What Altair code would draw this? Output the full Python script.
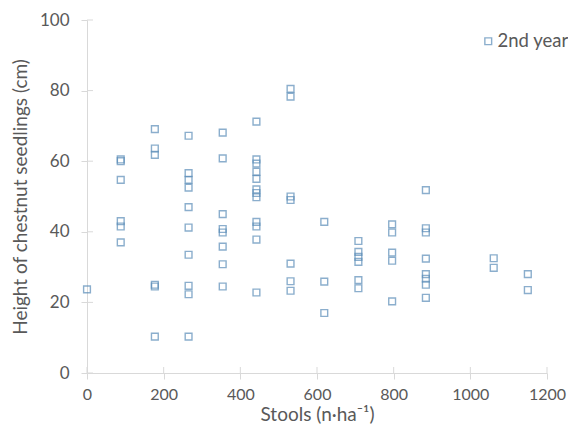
import altair as alt
import pandas as pd

# Stools (n·ha-1) of each column of points
stools = [0, 88, 177, 265, 354, 442, 531, 619, 708, 796, 884, 1061, 1150]

# Heights of chestnut seedlings (cm) read for each column, 2nd year
h_0 = [23.7]
h_88 = [60.5, 60.0, 54.7, 43.0, 41.5, 37.0]
h_177 = [69.1, 63.6, 61.8, 25.0, 24.5, 10.3]
h_265 = [67.2, 56.6, 54.7, 52.5, 47.0, 41.2, 33.5, 24.7, 22.3, 10.3]
h_354 = [68.1, 60.8, 45.0, 40.8, 39.8, 35.8, 30.8, 24.5]
h_442 = [71.2, 60.5, 59.3, 57.0, 55.0, 52.0, 51.0, 49.8, 42.8, 41.5, 37.8, 22.8]
h_531 = [80.5, 78.3, 50.0, 49.0, 31.0, 26.0, 23.3]
h_619 = [42.8, 25.9, 17.0]
h_708 = [37.4, 34.3, 32.9, 31.5, 26.3, 24.0]
h_796 = [42.1, 39.8, 34.1, 31.8, 20.3]
h_884 = [51.8, 41.0, 39.8, 32.4, 28.0, 26.7, 25.0, 21.3]
h_1061 = [32.5, 29.8]
h_1150 = [28.0, 23.5]

heights = [h_0, h_88, h_177, h_265, h_354, h_442, h_531, h_619, h_708,
           h_796, h_884, h_1061, h_1150]

series_name = "2nd year"
x_ticks = [0, 200, 400, 600, 800, 1000, 1200]
y_ticks = [0, 20, 40, 60, 80, 100]

rows = []
for s, hs in zip(stools, heights):
    for h in hs:
        rows.append({"stools": s, "height": h, "series": series_name})
df = pd.DataFrame(rows)

FONT = "Lato"
TEXT = "#595959"
AXC = "#d9d9d9"
MARK = "#5b8db8"
W, H = 460, 353

xs = alt.Scale(domain=[0, 1200], nice=False, zero=False)
ys = alt.Scale(domain=[0, 100], nice=False)

points = alt.Chart(df).mark_point(
    shape="square", filled=False, size=46, strokeWidth=1.4
).encode(
    x=alt.X("stools:Q", scale=xs,
            axis=alt.Axis(title="Stools (n·ha⁻¹)", values=x_ticks, grid=False,
                          format="d", labelFlush=False, labelFontSize=16,
                          tickSize=6, labelPadding=7, titlePadding=3)),
    y=alt.Y("height:Q", scale=ys,
            axis=alt.Axis(title="Height of chestnut seedlings (cm)", values=y_ticks,
                          grid=False, labelFlush=False, labelFontSize=17,
                          tickSize=6, labelPadding=12, titlePadding=9)),
    color=alt.Color("series:N",
                    scale=alt.Scale(domain=[series_name], range=[MARK]),
                    legend=alt.Legend(title=None, orient="none", legendX=392, legendY=12,
                                      symbolType="square", symbolSize=46,
                                      symbolStrokeWidth=1.4, labelOffset=0,
                                      padding=0)),
)

ytick_df = pd.DataFrame({"v": y_ticks})
xtick_df = pd.DataFrame({"v": x_ticks})

y_inner = alt.Chart(ytick_df).mark_rule(color=AXC, strokeWidth=1).encode(
    y=alt.Y("v:Q", scale=ys), x=alt.value(0), x2=alt.value(6)
)
x_inner = alt.Chart(xtick_df).mark_rule(color=AXC, strokeWidth=1).encode(
    x=alt.X("v:Q", scale=xs), y=alt.value(H - 6), y2=alt.value(H)
)

chart = alt.layer(y_inner, x_inner, points).properties(
    width=W, height=H,
    autosize=alt.AutoSizeParams(type="none"),
    padding={"left": 79, "top": 12, "right": 21, "bottom": 55},
).configure_view(stroke=None).configure_axis(
    domainColor=AXC, tickColor=AXC, labelColor=TEXT, titleColor=TEXT,
    labelFont=FONT, titleFont=FONT, titleFontSize=19,
    titleFontWeight="normal",
).configure_legend(
    labelFont=FONT, labelFontSize=18.5, labelColor=TEXT
)

chart.save("out.html", embed_options={"renderer": "svg", "actions": False})
